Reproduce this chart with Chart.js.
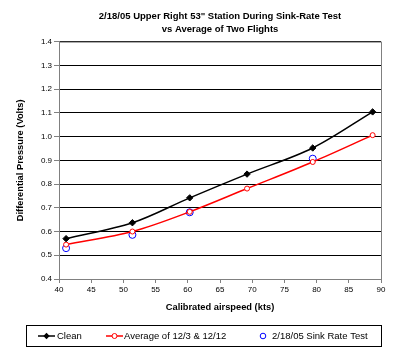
<!DOCTYPE html>
<html>
<head>
<meta charset="utf-8">
<script src="https://cdn.jsdelivr.net/npm/chart.js@4"></script>
<style>
html,body{margin:0;padding:0;background:#fff;}
#wrap{width:400px;height:357px;position:relative;}
</style>
</head>
<body>
<div id="wrap"><canvas id="c" width="400" height="357"></canvas></div>
<script>
const airspeed = [41.1, 51.4, 60.3, 69.2, 79.4, 88.7];
const cleanValues = [0.570, 0.637, 0.742, 0.842, 0.952, 1.104];
const averageValues = [0.545, 0.600, 0.683, 0.781, 0.893, 1.006];
const sinkAirspeed = [41.1, 51.4, 60.3, 79.4];
const sinkValues = [0.530, 0.586, 0.681, 0.907];
const seriesNames = ['Clean', 'Average of 12/3 & 12/12', '2/18/05 Sink Rate Test'];
const titleLines = ['2/18/05 Upper Right 53" Station During Sink-Rate Test', 'vs Average of Two Flights'];
const xTitle = 'Calibrated airspeed (kts)';
const yTitle = 'Differential Pressure (Volts)';

const FONT = '"Liberation Sans", Arial, sans-serif';
const pts = (xs, ys) => xs.map((x, i) => ({x: x, y: ys[i]}));

const borderPlugin = {
  id: 'plotBorder',
  beforeDatasetsDraw(chart) {
    const a = chart.chartArea, ctx = chart.ctx;
    ctx.save();
    ctx.strokeStyle = '#808080';
    ctx.lineWidth = 1;
    ctx.strokeRect(a.left + 0.5, a.top + 0.5, a.right - a.left, a.bottom - a.top);
    ctx.restore();
  }
};

function diamond(ctx, x, y, r) {
  ctx.beginPath();
  ctx.moveTo(x, y - r); ctx.lineTo(x + r, y); ctx.lineTo(x, y + r); ctx.lineTo(x - r, y);
  ctx.closePath();
}

const legendPlugin = {
  id: 'customLegend',
  afterDraw(chart) {
    const ctx = chart.ctx;
    ctx.save();
    ctx.strokeStyle = '#000';
    ctx.lineWidth = 1;
    ctx.strokeRect(26.5, 325.5, 355, 21);
    const cy = 336;
    ctx.font = '9.5px ' + FONT;
    ctx.textBaseline = 'middle';
    // Clean
    ctx.strokeStyle = '#000'; ctx.lineWidth = 1.5;
    ctx.beginPath(); ctx.moveTo(38, cy); ctx.lineTo(55, cy); ctx.stroke();
    diamond(ctx, 46.5, cy, 3.2); ctx.fillStyle = '#000'; ctx.fill();
    ctx.fillStyle = '#000'; ctx.fillText(seriesNames[0], 57, cy);
    // Average
    ctx.strokeStyle = '#ff0000';
    ctx.beginPath(); ctx.moveTo(106, cy); ctx.lineTo(123, cy); ctx.stroke();
    ctx.beginPath(); ctx.arc(114.5, cy, 2.5, 0, Math.PI * 2); ctx.fillStyle = '#fff'; ctx.fill(); ctx.lineWidth = 1; ctx.stroke();
    ctx.fillStyle = '#000'; ctx.fillText(seriesNames[1], 124, cy);
    // Sink
    ctx.strokeStyle = '#0000ff'; ctx.lineWidth = 1;
    ctx.beginPath(); ctx.arc(263, cy, 2.8, 0, Math.PI * 2); ctx.stroke();
    ctx.fillStyle = '#000'; ctx.fillText(seriesNames[2], 272, cy);
    ctx.restore();
  }
};

new Chart(document.getElementById('c'), {
  type: 'line',
  data: {
    datasets: [
      {
        label: seriesNames[0],
        data: pts(airspeed, cleanValues),
        borderColor: '#000', backgroundColor: '#000',
        borderWidth: 1.5, tension: 0.33,
        pointStyle: 'rectRot', pointRadius: 3.2,
        pointBackgroundColor: '#000', pointBorderColor: '#000', pointBorderWidth: 1
      },
      {
        label: seriesNames[1],
        data: pts(airspeed, averageValues),
        borderColor: '#ff0000', backgroundColor: '#fff',
        borderWidth: 1.5, tension: 0.33,
        pointStyle: 'circle', pointRadius: 2.5,
        pointBackgroundColor: '#fff', pointBorderColor: '#ff0000', pointBorderWidth: 1
      },
      {
        label: seriesNames[2],
        data: pts(sinkAirspeed, sinkValues),
        showLine: false,
        borderColor: '#0000ff', backgroundColor: 'rgba(0,0,0,0)',
        pointStyle: 'circle', pointRadius: 3.5,
        pointBackgroundColor: 'rgba(0,0,0,0)', pointBorderColor: '#0000ff', pointBorderWidth: 1
      }
    ]
  },
  options: {
    responsive: false,
    animation: false,
    devicePixelRatio: 1,
    layout: {padding: {left: 0, right: 19, top: 0, bottom: 42}},
    plugins: {
      legend: {display: false},
      tooltip: {enabled: false},
      title: {
        display: true,
        fullSize: false,
        text: titleLines,
        color: '#000',
        font: {family: FONT, size: 9.5, weight: 'bold', lineHeight: 1.35},
        padding: {top: 10, bottom: 6}
      }
    },
    scales: {
      x: {
        type: 'linear', min: 40, max: 90,
        afterFit(s) { s.height = 36; },
        ticks: {stepSize: 5, color: '#000', font: {family: FONT, size: 8}, padding: 2, maxRotation: 0},
        grid: {display: true, drawOnChartArea: false, drawTicks: true, tickLength: 4, color: '#808080'},
        border: {display: true, color: '#808080', width: 1},
        title: {display: true, text: xTitle, color: '#000', font: {family: FONT, size: 9.3, weight: 'bold', lineHeight: 1.2}, padding: {top: 0, bottom: 2}}
      },
      y: {
        type: 'linear', min: 0.4, max: 1.4,
        afterFit(s) { s.width = 59; },
        ticks: {stepSize: 0.1, color: '#000', font: {family: FONT, size: 8}, padding: 2,
          callback: v => Number(v).toFixed(1)},
        grid: {display: true, drawTicks: true, tickLength: 5, color: '#000', lineWidth: 1,
          tickColor: '#808080'},
        border: {display: true, color: '#808080', width: 1},
        title: {display: true, text: yTitle, color: '#000', font: {family: FONT, size: 9.3, weight: 'bold', lineHeight: 1.2}, padding: {top: 15, bottom: 0}}
      }
    }
  },
  plugins: [borderPlugin, legendPlugin]
});
</script>
</body>
</html>
